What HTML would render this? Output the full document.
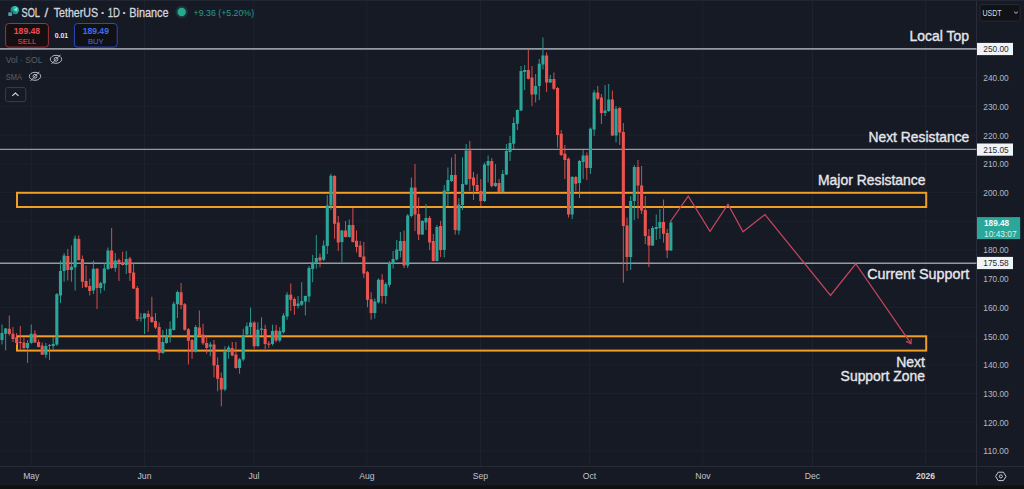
<!DOCTYPE html>
<html><head><meta charset="utf-8"><title>SOL / TetherUS chart</title>
<style>html,body{margin:0;padding:0;background:#161a25;overflow:hidden}svg{display:block}</style></head>
<body>
<svg width="1024" height="489" viewBox="0 0 1024 489" font-family="'Liberation Sans', sans-serif">
<rect width="1024" height="489" fill="#161a25"/>
<g stroke="#1d2130" stroke-width="1" shape-rendering="auto">
<line x1="0" x2="976.5" y1="450.94" y2="450.94"/>
<line x1="0" x2="976.5" y1="422.23" y2="422.23"/>
<line x1="0" x2="976.5" y1="393.52" y2="393.52"/>
<line x1="0" x2="976.5" y1="364.81" y2="364.81"/>
<line x1="0" x2="976.5" y1="336.10" y2="336.10"/>
<line x1="0" x2="976.5" y1="307.39" y2="307.39"/>
<line x1="0" x2="976.5" y1="278.68" y2="278.68"/>
<line x1="0" x2="976.5" y1="249.97" y2="249.97"/>
<line x1="0" x2="976.5" y1="221.26" y2="221.26"/>
<line x1="0" x2="976.5" y1="192.55" y2="192.55"/>
<line x1="0" x2="976.5" y1="163.84" y2="163.84"/>
<line x1="0" x2="976.5" y1="135.13" y2="135.13"/>
<line x1="0" x2="976.5" y1="106.42" y2="106.42"/>
<line x1="0" x2="976.5" y1="77.71" y2="77.71"/>
<line x1="0" x2="976.5" y1="49.00" y2="49.00"/>
<line x1="31.25" x2="31.25" y1="0" y2="466.5"/>
<line x1="144.5" x2="144.5" y1="0" y2="466.5"/>
<line x1="254" x2="254" y1="0" y2="466.5"/>
<line x1="367" x2="367" y1="0" y2="466.5"/>
<line x1="480.5" x2="480.5" y1="0" y2="466.5"/>
<line x1="589.5" x2="589.5" y1="0" y2="466.5"/>
<line x1="703" x2="703" y1="0" y2="466.5"/>
<line x1="812.5" x2="812.5" y1="0" y2="466.5"/>
<line x1="925.5" x2="925.5" y1="0" y2="466.5"/>
</g>
<line x1="976.6" x2="976.6" y1="0" y2="485.5" stroke="#2a2e3b" stroke-width="1"/>
<line x1="0" x2="1024" y1="466.5" y2="466.5" stroke="#282c39" stroke-width="1"/>
<line x1="0" x2="976.5" y1="48.8" y2="48.8" stroke="#9699a3" stroke-width="1.7"/>
<line x1="0" x2="976.5" y1="149.4" y2="149.4" stroke="#9699a3" stroke-width="1.4"/>
<line x1="0" x2="976.5" y1="263.2" y2="263.2" stroke="#9699a3" stroke-width="1.4"/>
<rect x="17" y="192.8" width="909.2" height="14.2" fill="none" stroke="#f29d25" stroke-width="2.0"/>
<rect x="17" y="336.3" width="909.2" height="14.3" fill="none" stroke="#f29d25" stroke-width="2.0"/>
<g>
<line x1="2.00" x2="2.00" y1="324.5" y2="344.5" stroke="#2aa69a" stroke-width="0.9"/>
<rect x="0.45" y="333" width="3.1" height="7.00" fill="#2aa69a"/>
<line x1="5.65" x2="5.65" y1="328" y2="350.5" stroke="#2aa69a" stroke-width="0.9"/>
<rect x="4.10" y="328.5" width="3.1" height="5.25" fill="#2aa69a"/>
<line x1="9.31" x2="9.31" y1="315.5" y2="335.5" stroke="#e9544f" stroke-width="0.9"/>
<rect x="7.76" y="328.75" width="3.1" height="5.25" fill="#e9544f"/>
<line x1="12.96" x2="12.96" y1="327" y2="342" stroke="#e9544f" stroke-width="0.9"/>
<rect x="11.41" y="333.75" width="3.1" height="5.25" fill="#e9544f"/>
<line x1="16.62" x2="16.62" y1="333" y2="345" stroke="#e9544f" stroke-width="0.9"/>
<rect x="15.07" y="337.5" width="3.1" height="5.50" fill="#e9544f"/>
<line x1="20.27" x2="20.27" y1="326" y2="349.5" stroke="#e9544f" stroke-width="0.9"/>
<rect x="18.72" y="342" width="3.1" height="1.00" fill="#e9544f"/>
<line x1="23.93" x2="23.93" y1="337.5" y2="349.5" stroke="#e9544f" stroke-width="0.9"/>
<rect x="22.38" y="342.5" width="3.1" height="5.50" fill="#e9544f"/>
<line x1="27.58" x2="27.58" y1="340" y2="363" stroke="#2aa69a" stroke-width="0.9"/>
<rect x="26.03" y="343" width="3.1" height="5.00" fill="#2aa69a"/>
<line x1="31.24" x2="31.24" y1="324.5" y2="343.75" stroke="#2aa69a" stroke-width="0.9"/>
<rect x="29.69" y="333.75" width="3.1" height="9.25" fill="#2aa69a"/>
<line x1="34.89" x2="34.89" y1="330.5" y2="343" stroke="#e9544f" stroke-width="0.9"/>
<rect x="33.34" y="333.75" width="3.1" height="8.75" fill="#e9544f"/>
<line x1="38.55" x2="38.55" y1="339.5" y2="347.5" stroke="#e9544f" stroke-width="0.9"/>
<rect x="37.00" y="342" width="3.1" height="5.00" fill="#e9544f"/>
<line x1="42.20" x2="42.20" y1="342.5" y2="355" stroke="#e9544f" stroke-width="0.9"/>
<rect x="40.66" y="345.5" width="3.1" height="9.25" fill="#e9544f"/>
<line x1="45.86" x2="45.86" y1="343" y2="358" stroke="#2aa69a" stroke-width="0.9"/>
<rect x="44.31" y="346" width="3.1" height="8.75" fill="#2aa69a"/>
<line x1="49.52" x2="49.52" y1="344" y2="360" stroke="#2aa69a" stroke-width="0.9"/>
<rect x="47.97" y="345" width="3.1" height="0.90" fill="#2aa69a"/>
<line x1="53.17" x2="53.17" y1="337.5" y2="349.5" stroke="#2aa69a" stroke-width="0.9"/>
<rect x="51.62" y="344" width="3.1" height="2.00" fill="#2aa69a"/>
<line x1="56.82" x2="56.82" y1="293" y2="346" stroke="#2aa69a" stroke-width="0.9"/>
<rect x="55.27" y="294.25" width="3.1" height="50.25" fill="#2aa69a"/>
<line x1="60.48" x2="60.48" y1="260.5" y2="303" stroke="#2aa69a" stroke-width="0.9"/>
<rect x="58.93" y="271" width="3.1" height="24.50" fill="#2aa69a"/>
<line x1="64.13" x2="64.13" y1="253" y2="281.75" stroke="#2aa69a" stroke-width="0.9"/>
<rect x="62.58" y="255.5" width="3.1" height="15.50" fill="#2aa69a"/>
<line x1="67.79" x2="67.79" y1="249" y2="280.5" stroke="#e9544f" stroke-width="0.9"/>
<rect x="66.24" y="256" width="3.1" height="14.00" fill="#e9544f"/>
<line x1="71.44" x2="71.44" y1="245.5" y2="281.75" stroke="#2aa69a" stroke-width="0.9"/>
<rect x="69.89" y="266.75" width="3.1" height="3.25" fill="#2aa69a"/>
<line x1="75.10" x2="75.10" y1="235.5" y2="290.5" stroke="#2aa69a" stroke-width="0.9"/>
<rect x="73.55" y="238.5" width="3.1" height="29.00" fill="#2aa69a"/>
<line x1="78.75" x2="78.75" y1="235.5" y2="260.5" stroke="#e9544f" stroke-width="0.9"/>
<rect x="77.20" y="239" width="3.1" height="21.00" fill="#e9544f"/>
<line x1="82.41" x2="82.41" y1="255.5" y2="288" stroke="#e9544f" stroke-width="0.9"/>
<rect x="80.86" y="259" width="3.1" height="22.75" fill="#e9544f"/>
<line x1="86.06" x2="86.06" y1="265.5" y2="288" stroke="#e9544f" stroke-width="0.9"/>
<rect x="84.52" y="281" width="3.1" height="6.00" fill="#e9544f"/>
<line x1="89.72" x2="89.72" y1="279" y2="295.5" stroke="#e9544f" stroke-width="0.9"/>
<rect x="88.17" y="286" width="3.1" height="5.00" fill="#e9544f"/>
<line x1="93.38" x2="93.38" y1="260.5" y2="294" stroke="#2aa69a" stroke-width="0.9"/>
<rect x="91.83" y="268.75" width="3.1" height="21.75" fill="#2aa69a"/>
<line x1="97.03" x2="97.03" y1="268" y2="309" stroke="#e9544f" stroke-width="0.9"/>
<rect x="95.48" y="268.75" width="3.1" height="19.25" fill="#e9544f"/>
<line x1="100.68" x2="100.68" y1="281.75" y2="293.5" stroke="#2aa69a" stroke-width="0.9"/>
<rect x="99.13" y="283" width="3.1" height="5.00" fill="#2aa69a"/>
<line x1="104.34" x2="104.34" y1="263" y2="290.5" stroke="#2aa69a" stroke-width="0.9"/>
<rect x="102.79" y="268.5" width="3.1" height="15.00" fill="#2aa69a"/>
<line x1="107.99" x2="107.99" y1="247.5" y2="270" stroke="#2aa69a" stroke-width="0.9"/>
<rect x="106.44" y="250.5" width="3.1" height="18.50" fill="#2aa69a"/>
<line x1="111.65" x2="111.65" y1="228" y2="269" stroke="#e9544f" stroke-width="0.9"/>
<rect x="110.10" y="250.5" width="3.1" height="17.50" fill="#e9544f"/>
<line x1="115.30" x2="115.30" y1="253" y2="271.75" stroke="#2aa69a" stroke-width="0.9"/>
<rect x="113.75" y="260.5" width="3.1" height="7.50" fill="#2aa69a"/>
<line x1="118.96" x2="118.96" y1="258.5" y2="281" stroke="#e9544f" stroke-width="0.9"/>
<rect x="117.41" y="260" width="3.1" height="2.50" fill="#e9544f"/>
<line x1="122.61" x2="122.61" y1="251.75" y2="265.5" stroke="#e9544f" stroke-width="0.9"/>
<rect x="121.06" y="262.5" width="3.1" height="2.50" fill="#e9544f"/>
<line x1="126.27" x2="126.27" y1="251" y2="274" stroke="#2aa69a" stroke-width="0.9"/>
<rect x="124.72" y="259" width="3.1" height="6.00" fill="#2aa69a"/>
<line x1="129.93" x2="129.93" y1="256.75" y2="281" stroke="#e9544f" stroke-width="0.9"/>
<rect x="128.38" y="258.5" width="3.1" height="14.50" fill="#e9544f"/>
<line x1="133.58" x2="133.58" y1="263" y2="289" stroke="#e9544f" stroke-width="0.9"/>
<rect x="132.03" y="272.5" width="3.1" height="16.00" fill="#e9544f"/>
<line x1="137.23" x2="137.23" y1="286" y2="321" stroke="#e9544f" stroke-width="0.9"/>
<rect x="135.68" y="288" width="3.1" height="31.00" fill="#e9544f"/>
<line x1="140.89" x2="140.89" y1="313" y2="321.75" stroke="#2aa69a" stroke-width="0.9"/>
<rect x="139.34" y="317.5" width="3.1" height="1.00" fill="#2aa69a"/>
<line x1="144.54" x2="144.54" y1="313" y2="334" stroke="#2aa69a" stroke-width="0.9"/>
<rect x="142.99" y="313.5" width="3.1" height="5.00" fill="#2aa69a"/>
<line x1="148.20" x2="148.20" y1="310.5" y2="331.75" stroke="#e9544f" stroke-width="0.9"/>
<rect x="146.65" y="313.75" width="3.1" height="3.25" fill="#e9544f"/>
<line x1="151.85" x2="151.85" y1="296.75" y2="323" stroke="#e9544f" stroke-width="0.9"/>
<rect x="150.30" y="316.75" width="3.1" height="5.25" fill="#e9544f"/>
<line x1="155.51" x2="155.51" y1="313" y2="329" stroke="#e9544f" stroke-width="0.9"/>
<rect x="153.96" y="321" width="3.1" height="6.50" fill="#e9544f"/>
<line x1="159.16" x2="159.16" y1="322.5" y2="360" stroke="#e9544f" stroke-width="0.9"/>
<rect x="157.61" y="327" width="3.1" height="26.00" fill="#e9544f"/>
<line x1="162.82" x2="162.82" y1="330" y2="353.75" stroke="#2aa69a" stroke-width="0.9"/>
<rect x="161.27" y="342" width="3.1" height="11.00" fill="#2aa69a"/>
<line x1="166.47" x2="166.47" y1="328.75" y2="343.75" stroke="#2aa69a" stroke-width="0.9"/>
<rect x="164.92" y="336.25" width="3.1" height="6.75" fill="#2aa69a"/>
<line x1="170.13" x2="170.13" y1="321.25" y2="342.5" stroke="#2aa69a" stroke-width="0.9"/>
<rect x="168.58" y="328.75" width="3.1" height="7.50" fill="#2aa69a"/>
<line x1="173.78" x2="173.78" y1="301.75" y2="330.5" stroke="#2aa69a" stroke-width="0.9"/>
<rect x="172.23" y="303.75" width="3.1" height="26.25" fill="#2aa69a"/>
<line x1="177.44" x2="177.44" y1="290.5" y2="318" stroke="#2aa69a" stroke-width="0.9"/>
<rect x="175.89" y="292" width="3.1" height="12.25" fill="#2aa69a"/>
<line x1="181.09" x2="181.09" y1="283" y2="309.25" stroke="#e9544f" stroke-width="0.9"/>
<rect x="179.54" y="292.25" width="3.1" height="12.75" fill="#e9544f"/>
<line x1="184.75" x2="184.75" y1="303" y2="330.5" stroke="#e9544f" stroke-width="0.9"/>
<rect x="183.20" y="304.25" width="3.1" height="25.50" fill="#e9544f"/>
<line x1="188.41" x2="188.41" y1="328" y2="364.5" stroke="#e9544f" stroke-width="0.9"/>
<rect x="186.85" y="329.25" width="3.1" height="11.50" fill="#e9544f"/>
<line x1="192.06" x2="192.06" y1="338.75" y2="358.75" stroke="#e9544f" stroke-width="0.9"/>
<rect x="190.51" y="340" width="3.1" height="11.25" fill="#e9544f"/>
<line x1="195.72" x2="195.72" y1="325" y2="352.5" stroke="#2aa69a" stroke-width="0.9"/>
<rect x="194.16" y="327" width="3.1" height="24.25" fill="#2aa69a"/>
<line x1="199.37" x2="199.37" y1="310.5" y2="336.75" stroke="#e9544f" stroke-width="0.9"/>
<rect x="197.82" y="327.5" width="3.1" height="8.00" fill="#e9544f"/>
<line x1="203.02" x2="203.02" y1="323.75" y2="345" stroke="#e9544f" stroke-width="0.9"/>
<rect x="201.47" y="334.5" width="3.1" height="8.75" fill="#e9544f"/>
<line x1="206.68" x2="206.68" y1="336.25" y2="353.75" stroke="#e9544f" stroke-width="0.9"/>
<rect x="205.13" y="343" width="3.1" height="5.00" fill="#e9544f"/>
<line x1="210.33" x2="210.33" y1="342" y2="356.25" stroke="#2aa69a" stroke-width="0.9"/>
<rect x="208.78" y="344.5" width="3.1" height="2.25" fill="#2aa69a"/>
<line x1="213.99" x2="213.99" y1="340" y2="377.5" stroke="#e9544f" stroke-width="0.9"/>
<rect x="212.44" y="344.5" width="3.1" height="21.00" fill="#e9544f"/>
<line x1="217.64" x2="217.64" y1="357.5" y2="391.25" stroke="#e9544f" stroke-width="0.9"/>
<rect x="216.09" y="365" width="3.1" height="13.75" fill="#e9544f"/>
<line x1="221.30" x2="221.30" y1="372.5" y2="406.25" stroke="#e9544f" stroke-width="0.9"/>
<rect x="219.75" y="378" width="3.1" height="11.50" fill="#e9544f"/>
<line x1="224.95" x2="224.95" y1="346.25" y2="391.25" stroke="#2aa69a" stroke-width="0.9"/>
<rect x="223.40" y="351.25" width="3.1" height="38.25" fill="#2aa69a"/>
<line x1="228.61" x2="228.61" y1="345.5" y2="358.75" stroke="#2aa69a" stroke-width="0.9"/>
<rect x="227.06" y="347.5" width="3.1" height="4.50" fill="#2aa69a"/>
<line x1="232.26" x2="232.26" y1="342" y2="356.25" stroke="#e9544f" stroke-width="0.9"/>
<rect x="230.71" y="348" width="3.1" height="7.50" fill="#e9544f"/>
<line x1="235.92" x2="235.92" y1="342" y2="368.75" stroke="#e9544f" stroke-width="0.9"/>
<rect x="234.37" y="354.5" width="3.1" height="13.50" fill="#e9544f"/>
<line x1="239.57" x2="239.57" y1="358" y2="373.75" stroke="#2aa69a" stroke-width="0.9"/>
<rect x="238.02" y="359.25" width="3.1" height="8.75" fill="#2aa69a"/>
<line x1="243.23" x2="243.23" y1="328.75" y2="361.25" stroke="#2aa69a" stroke-width="0.9"/>
<rect x="241.68" y="335" width="3.1" height="24.50" fill="#2aa69a"/>
<line x1="246.88" x2="246.88" y1="322.5" y2="335" stroke="#2aa69a" stroke-width="0.9"/>
<rect x="245.33" y="326.25" width="3.1" height="8.25" fill="#2aa69a"/>
<line x1="250.54" x2="250.54" y1="307.5" y2="336" stroke="#2aa69a" stroke-width="0.9"/>
<rect x="248.99" y="322.5" width="3.1" height="4.50" fill="#2aa69a"/>
<line x1="254.19" x2="254.19" y1="321.25" y2="348.75" stroke="#e9544f" stroke-width="0.9"/>
<rect x="252.64" y="322.5" width="3.1" height="23.75" fill="#e9544f"/>
<line x1="257.85" x2="257.85" y1="322.25" y2="347.25" stroke="#2aa69a" stroke-width="0.9"/>
<rect x="256.30" y="329.75" width="3.1" height="16.25" fill="#2aa69a"/>
<line x1="261.50" x2="261.50" y1="317.25" y2="336" stroke="#2aa69a" stroke-width="0.9"/>
<rect x="259.95" y="328.5" width="3.1" height="1.25" fill="#2aa69a"/>
<line x1="265.16" x2="265.16" y1="324.75" y2="349" stroke="#e9544f" stroke-width="0.9"/>
<rect x="263.61" y="329" width="3.1" height="15.00" fill="#e9544f"/>
<line x1="268.81" x2="268.81" y1="341" y2="348" stroke="#e9544f" stroke-width="0.9"/>
<rect x="267.26" y="343.5" width="3.1" height="1.25" fill="#e9544f"/>
<line x1="272.47" x2="272.47" y1="324.75" y2="345.5" stroke="#2aa69a" stroke-width="0.9"/>
<rect x="270.92" y="331" width="3.1" height="13.00" fill="#2aa69a"/>
<line x1="276.12" x2="276.12" y1="324.75" y2="342.25" stroke="#e9544f" stroke-width="0.9"/>
<rect x="274.57" y="330.5" width="3.1" height="10.00" fill="#e9544f"/>
<line x1="279.78" x2="279.78" y1="327.25" y2="342.25" stroke="#2aa69a" stroke-width="0.9"/>
<rect x="278.23" y="331" width="3.1" height="9.50" fill="#2aa69a"/>
<line x1="283.44" x2="283.44" y1="313" y2="333.5" stroke="#2aa69a" stroke-width="0.9"/>
<rect x="281.88" y="315.5" width="3.1" height="16.75" fill="#2aa69a"/>
<line x1="287.09" x2="287.09" y1="292.25" y2="319.75" stroke="#2aa69a" stroke-width="0.9"/>
<rect x="285.54" y="294.75" width="3.1" height="21.75" fill="#2aa69a"/>
<line x1="290.75" x2="290.75" y1="283.5" y2="311" stroke="#e9544f" stroke-width="0.9"/>
<rect x="289.19" y="294.75" width="3.1" height="5.00" fill="#e9544f"/>
<line x1="294.40" x2="294.40" y1="297.25" y2="314.75" stroke="#e9544f" stroke-width="0.9"/>
<rect x="292.85" y="299" width="3.1" height="7.00" fill="#e9544f"/>
<line x1="298.06" x2="298.06" y1="296" y2="308.5" stroke="#2aa69a" stroke-width="0.9"/>
<rect x="296.50" y="303.5" width="3.1" height="2.50" fill="#2aa69a"/>
<line x1="301.71" x2="301.71" y1="282.25" y2="306" stroke="#2aa69a" stroke-width="0.9"/>
<rect x="300.16" y="301" width="3.1" height="3.75" fill="#2aa69a"/>
<line x1="305.37" x2="305.37" y1="295.5" y2="315.5" stroke="#2aa69a" stroke-width="0.9"/>
<rect x="303.81" y="296" width="3.1" height="5.50" fill="#2aa69a"/>
<line x1="309.02" x2="309.02" y1="266" y2="302.25" stroke="#2aa69a" stroke-width="0.9"/>
<rect x="307.47" y="268" width="3.1" height="28.50" fill="#2aa69a"/>
<line x1="312.68" x2="312.68" y1="254.75" y2="282.25" stroke="#2aa69a" stroke-width="0.9"/>
<rect x="311.12" y="262.25" width="3.1" height="6.75" fill="#2aa69a"/>
<line x1="316.33" x2="316.33" y1="235" y2="268.5" stroke="#2aa69a" stroke-width="0.9"/>
<rect x="314.78" y="258" width="3.1" height="4.50" fill="#2aa69a"/>
<line x1="319.98" x2="319.98" y1="253.5" y2="267.25" stroke="#e9544f" stroke-width="0.9"/>
<rect x="318.43" y="257.25" width="3.1" height="3.25" fill="#e9544f"/>
<line x1="323.64" x2="323.64" y1="240.5" y2="261" stroke="#2aa69a" stroke-width="0.9"/>
<rect x="322.09" y="245.5" width="3.1" height="14.25" fill="#2aa69a"/>
<line x1="327.29" x2="327.29" y1="195" y2="254" stroke="#2aa69a" stroke-width="0.9"/>
<rect x="325.74" y="205.5" width="3.1" height="40.50" fill="#2aa69a"/>
<line x1="330.95" x2="330.95" y1="173.75" y2="210" stroke="#2aa69a" stroke-width="0.9"/>
<rect x="329.40" y="175.75" width="3.1" height="29.75" fill="#2aa69a"/>
<line x1="334.60" x2="334.60" y1="175" y2="238.75" stroke="#e9544f" stroke-width="0.9"/>
<rect x="333.05" y="176" width="3.1" height="47.75" fill="#e9544f"/>
<line x1="338.26" x2="338.26" y1="216" y2="251" stroke="#e9544f" stroke-width="0.9"/>
<rect x="336.71" y="222.5" width="3.1" height="20.00" fill="#e9544f"/>
<line x1="341.91" x2="341.91" y1="230" y2="262" stroke="#2aa69a" stroke-width="0.9"/>
<rect x="340.36" y="230.5" width="3.1" height="11.50" fill="#2aa69a"/>
<line x1="345.57" x2="345.57" y1="221" y2="237.5" stroke="#e9544f" stroke-width="0.9"/>
<rect x="344.02" y="230.5" width="3.1" height="6.50" fill="#e9544f"/>
<line x1="349.22" x2="349.22" y1="219.5" y2="237.5" stroke="#2aa69a" stroke-width="0.9"/>
<rect x="347.67" y="225" width="3.1" height="12.00" fill="#2aa69a"/>
<line x1="352.88" x2="352.88" y1="208" y2="242.5" stroke="#e9544f" stroke-width="0.9"/>
<rect x="351.33" y="225" width="3.1" height="17.00" fill="#e9544f"/>
<line x1="356.53" x2="356.53" y1="230.5" y2="252.5" stroke="#e9544f" stroke-width="0.9"/>
<rect x="354.98" y="240.75" width="3.1" height="6.25" fill="#e9544f"/>
<line x1="360.19" x2="360.19" y1="241" y2="257.5" stroke="#e9544f" stroke-width="0.9"/>
<rect x="358.64" y="245.5" width="3.1" height="11.50" fill="#e9544f"/>
<line x1="363.84" x2="363.84" y1="242" y2="278" stroke="#e9544f" stroke-width="0.9"/>
<rect x="362.29" y="256.5" width="3.1" height="17.00" fill="#e9544f"/>
<line x1="367.50" x2="367.50" y1="271" y2="307.25" stroke="#e9544f" stroke-width="0.9"/>
<rect x="365.95" y="272.25" width="3.1" height="27.50" fill="#e9544f"/>
<line x1="371.15" x2="371.15" y1="292.25" y2="319.75" stroke="#e9544f" stroke-width="0.9"/>
<rect x="369.60" y="299.25" width="3.1" height="13.75" fill="#e9544f"/>
<line x1="374.81" x2="374.81" y1="298.5" y2="318.5" stroke="#2aa69a" stroke-width="0.9"/>
<rect x="373.26" y="301.5" width="3.1" height="11.50" fill="#2aa69a"/>
<line x1="378.46" x2="378.46" y1="278.5" y2="303.5" stroke="#2aa69a" stroke-width="0.9"/>
<rect x="376.91" y="279.75" width="3.1" height="22.50" fill="#2aa69a"/>
<line x1="382.12" x2="382.12" y1="274" y2="303.5" stroke="#e9544f" stroke-width="0.9"/>
<rect x="380.57" y="279.75" width="3.1" height="16.25" fill="#e9544f"/>
<line x1="385.77" x2="385.77" y1="282.25" y2="304" stroke="#2aa69a" stroke-width="0.9"/>
<rect x="384.22" y="284" width="3.1" height="12.00" fill="#2aa69a"/>
<line x1="389.43" x2="389.43" y1="261" y2="287.25" stroke="#2aa69a" stroke-width="0.9"/>
<rect x="387.88" y="263" width="3.1" height="21.75" fill="#2aa69a"/>
<line x1="393.08" x2="393.08" y1="251" y2="268.5" stroke="#2aa69a" stroke-width="0.9"/>
<rect x="391.53" y="259" width="3.1" height="4.50" fill="#2aa69a"/>
<line x1="396.74" x2="396.74" y1="240" y2="260.5" stroke="#2aa69a" stroke-width="0.9"/>
<rect x="395.19" y="249.5" width="3.1" height="10.00" fill="#2aa69a"/>
<line x1="400.39" x2="400.39" y1="232" y2="257.5" stroke="#2aa69a" stroke-width="0.9"/>
<rect x="398.84" y="241" width="3.1" height="10.00" fill="#2aa69a"/>
<line x1="404.05" x2="404.05" y1="230.5" y2="268" stroke="#e9544f" stroke-width="0.9"/>
<rect x="402.50" y="241" width="3.1" height="24.50" fill="#e9544f"/>
<line x1="407.70" x2="407.70" y1="214" y2="268" stroke="#2aa69a" stroke-width="0.9"/>
<rect x="406.15" y="215.5" width="3.1" height="50.00" fill="#2aa69a"/>
<line x1="411.36" x2="411.36" y1="177.5" y2="217.5" stroke="#2aa69a" stroke-width="0.9"/>
<rect x="409.81" y="187.5" width="3.1" height="28.50" fill="#2aa69a"/>
<line x1="415.01" x2="415.01" y1="164" y2="231" stroke="#e9544f" stroke-width="0.9"/>
<rect x="413.46" y="187.5" width="3.1" height="27.00" fill="#e9544f"/>
<line x1="418.67" x2="418.67" y1="197.5" y2="240" stroke="#e9544f" stroke-width="0.9"/>
<rect x="417.12" y="214" width="3.1" height="20.50" fill="#e9544f"/>
<line x1="422.32" x2="422.32" y1="220" y2="235" stroke="#2aa69a" stroke-width="0.9"/>
<rect x="420.77" y="221" width="3.1" height="13.50" fill="#2aa69a"/>
<line x1="425.98" x2="425.98" y1="204" y2="230" stroke="#2aa69a" stroke-width="0.9"/>
<rect x="424.43" y="218" width="3.1" height="4.50" fill="#2aa69a"/>
<line x1="429.63" x2="429.63" y1="216" y2="250" stroke="#e9544f" stroke-width="0.9"/>
<rect x="428.08" y="218" width="3.1" height="24.50" fill="#e9544f"/>
<line x1="433.29" x2="433.29" y1="234" y2="261.5" stroke="#e9544f" stroke-width="0.9"/>
<rect x="431.74" y="241" width="3.1" height="20.00" fill="#e9544f"/>
<line x1="436.94" x2="436.94" y1="225" y2="261.5" stroke="#2aa69a" stroke-width="0.9"/>
<rect x="435.39" y="227" width="3.1" height="34.00" fill="#2aa69a"/>
<line x1="440.60" x2="440.60" y1="221" y2="257" stroke="#e9544f" stroke-width="0.9"/>
<rect x="439.05" y="226" width="3.1" height="24.00" fill="#e9544f"/>
<line x1="444.25" x2="444.25" y1="185" y2="257.5" stroke="#2aa69a" stroke-width="0.9"/>
<rect x="442.70" y="190.5" width="3.1" height="59.50" fill="#2aa69a"/>
<line x1="447.91" x2="447.91" y1="167.5" y2="206" stroke="#2aa69a" stroke-width="0.9"/>
<rect x="446.36" y="180" width="3.1" height="11.00" fill="#2aa69a"/>
<line x1="451.56" x2="451.56" y1="157.5" y2="182" stroke="#2aa69a" stroke-width="0.9"/>
<rect x="450.01" y="175" width="3.1" height="6.00" fill="#2aa69a"/>
<line x1="455.22" x2="455.22" y1="154" y2="234.5" stroke="#e9544f" stroke-width="0.9"/>
<rect x="453.67" y="175" width="3.1" height="55.00" fill="#e9544f"/>
<line x1="458.88" x2="458.88" y1="198" y2="234.5" stroke="#2aa69a" stroke-width="0.9"/>
<rect x="457.32" y="204.5" width="3.1" height="26.00" fill="#2aa69a"/>
<line x1="462.53" x2="462.53" y1="157.5" y2="210" stroke="#2aa69a" stroke-width="0.9"/>
<rect x="460.98" y="184" width="3.1" height="21.00" fill="#2aa69a"/>
<line x1="466.19" x2="466.19" y1="144" y2="185" stroke="#2aa69a" stroke-width="0.9"/>
<rect x="464.63" y="150.5" width="3.1" height="34.00" fill="#2aa69a"/>
<line x1="469.84" x2="469.84" y1="141" y2="191" stroke="#e9544f" stroke-width="0.9"/>
<rect x="468.29" y="150.5" width="3.1" height="28.50" fill="#e9544f"/>
<line x1="473.49" x2="473.49" y1="172" y2="200" stroke="#e9544f" stroke-width="0.9"/>
<rect x="471.94" y="177.5" width="3.1" height="8.00" fill="#e9544f"/>
<line x1="477.15" x2="477.15" y1="174" y2="192" stroke="#e9544f" stroke-width="0.9"/>
<rect x="475.60" y="185" width="3.1" height="6.00" fill="#e9544f"/>
<line x1="480.80" x2="480.80" y1="179" y2="206" stroke="#e9544f" stroke-width="0.9"/>
<rect x="479.25" y="191" width="3.1" height="10.00" fill="#e9544f"/>
<line x1="484.46" x2="484.46" y1="162.5" y2="202" stroke="#2aa69a" stroke-width="0.9"/>
<rect x="482.91" y="164.5" width="3.1" height="36.50" fill="#2aa69a"/>
<line x1="488.11" x2="488.11" y1="155.5" y2="182.5" stroke="#2aa69a" stroke-width="0.9"/>
<rect x="486.56" y="161" width="3.1" height="4.50" fill="#2aa69a"/>
<line x1="491.77" x2="491.77" y1="158" y2="187.5" stroke="#e9544f" stroke-width="0.9"/>
<rect x="490.22" y="161" width="3.1" height="25.00" fill="#e9544f"/>
<line x1="495.42" x2="495.42" y1="164" y2="187" stroke="#2aa69a" stroke-width="0.9"/>
<rect x="493.87" y="183" width="3.1" height="3.00" fill="#2aa69a"/>
<line x1="499.08" x2="499.08" y1="179" y2="192.5" stroke="#e9544f" stroke-width="0.9"/>
<rect x="497.53" y="183" width="3.1" height="9.00" fill="#e9544f"/>
<line x1="502.73" x2="502.73" y1="170" y2="192.5" stroke="#2aa69a" stroke-width="0.9"/>
<rect x="501.18" y="174" width="3.1" height="18.00" fill="#2aa69a"/>
<line x1="506.39" x2="506.39" y1="144" y2="175" stroke="#2aa69a" stroke-width="0.9"/>
<rect x="504.84" y="151" width="3.1" height="23.50" fill="#2aa69a"/>
<line x1="510.04" x2="510.04" y1="136" y2="161" stroke="#2aa69a" stroke-width="0.9"/>
<rect x="508.49" y="143" width="3.1" height="9.00" fill="#2aa69a"/>
<line x1="513.70" x2="513.70" y1="117.5" y2="149" stroke="#2aa69a" stroke-width="0.9"/>
<rect x="512.15" y="123" width="3.1" height="20.75" fill="#2aa69a"/>
<line x1="517.36" x2="517.36" y1="109.5" y2="130" stroke="#2aa69a" stroke-width="0.9"/>
<rect x="515.81" y="110" width="3.1" height="13.75" fill="#2aa69a"/>
<line x1="521.01" x2="521.01" y1="66" y2="111" stroke="#2aa69a" stroke-width="0.9"/>
<rect x="519.46" y="71" width="3.1" height="39.50" fill="#2aa69a"/>
<line x1="524.66" x2="524.66" y1="65" y2="90" stroke="#2aa69a" stroke-width="0.9"/>
<rect x="523.12" y="70" width="3.1" height="2.00" fill="#2aa69a"/>
<line x1="528.32" x2="528.32" y1="49" y2="79.5" stroke="#e9544f" stroke-width="0.9"/>
<rect x="526.77" y="70" width="3.1" height="8.75" fill="#e9544f"/>
<line x1="531.98" x2="531.98" y1="66" y2="106" stroke="#e9544f" stroke-width="0.9"/>
<rect x="530.43" y="77.5" width="3.1" height="17.00" fill="#e9544f"/>
<line x1="535.63" x2="535.63" y1="74" y2="102.5" stroke="#2aa69a" stroke-width="0.9"/>
<rect x="534.08" y="86" width="3.1" height="8.50" fill="#2aa69a"/>
<line x1="539.28" x2="539.28" y1="59" y2="100" stroke="#2aa69a" stroke-width="0.9"/>
<rect x="537.74" y="63.75" width="3.1" height="22.25" fill="#2aa69a"/>
<line x1="542.94" x2="542.94" y1="37.5" y2="69.5" stroke="#2aa69a" stroke-width="0.9"/>
<rect x="541.39" y="55.5" width="3.1" height="9.00" fill="#2aa69a"/>
<line x1="546.60" x2="546.60" y1="52.5" y2="92" stroke="#e9544f" stroke-width="0.9"/>
<rect x="545.05" y="55.5" width="3.1" height="27.00" fill="#e9544f"/>
<line x1="550.25" x2="550.25" y1="75" y2="83" stroke="#2aa69a" stroke-width="0.9"/>
<rect x="548.70" y="79" width="3.1" height="3.50" fill="#2aa69a"/>
<line x1="553.90" x2="553.90" y1="72.5" y2="90" stroke="#e9544f" stroke-width="0.9"/>
<rect x="552.36" y="79" width="3.1" height="9.75" fill="#e9544f"/>
<line x1="557.56" x2="557.56" y1="87" y2="147.5" stroke="#e9544f" stroke-width="0.9"/>
<rect x="556.01" y="88" width="3.1" height="47.00" fill="#e9544f"/>
<line x1="561.21" x2="561.21" y1="130" y2="156" stroke="#e9544f" stroke-width="0.9"/>
<rect x="559.66" y="133.75" width="3.1" height="21.25" fill="#e9544f"/>
<line x1="564.87" x2="564.87" y1="145" y2="179" stroke="#e9544f" stroke-width="0.9"/>
<rect x="563.32" y="153.75" width="3.1" height="6.25" fill="#e9544f"/>
<line x1="568.52" x2="568.52" y1="157.5" y2="217.5" stroke="#e9544f" stroke-width="0.9"/>
<rect x="566.98" y="158.75" width="3.1" height="55.75" fill="#e9544f"/>
<line x1="572.18" x2="572.18" y1="176" y2="219" stroke="#2aa69a" stroke-width="0.9"/>
<rect x="570.63" y="177" width="3.1" height="37.50" fill="#2aa69a"/>
<line x1="575.83" x2="575.83" y1="176" y2="191" stroke="#e9544f" stroke-width="0.9"/>
<rect x="574.28" y="177" width="3.1" height="6.75" fill="#e9544f"/>
<line x1="579.49" x2="579.49" y1="160" y2="198" stroke="#2aa69a" stroke-width="0.9"/>
<rect x="577.94" y="161" width="3.1" height="22.00" fill="#2aa69a"/>
<line x1="583.14" x2="583.14" y1="150" y2="179" stroke="#2aa69a" stroke-width="0.9"/>
<rect x="581.60" y="155.5" width="3.1" height="6.50" fill="#2aa69a"/>
<line x1="586.80" x2="586.80" y1="152.5" y2="180" stroke="#e9544f" stroke-width="0.9"/>
<rect x="585.25" y="155.5" width="3.1" height="12.50" fill="#e9544f"/>
<line x1="590.45" x2="590.45" y1="127.5" y2="174" stroke="#2aa69a" stroke-width="0.9"/>
<rect x="588.90" y="128.75" width="3.1" height="39.25" fill="#2aa69a"/>
<line x1="594.11" x2="594.11" y1="90" y2="136" stroke="#2aa69a" stroke-width="0.9"/>
<rect x="592.56" y="92.5" width="3.1" height="37.00" fill="#2aa69a"/>
<line x1="597.76" x2="597.76" y1="86" y2="100" stroke="#e9544f" stroke-width="0.9"/>
<rect x="596.22" y="92.5" width="3.1" height="6.25" fill="#e9544f"/>
<line x1="601.42" x2="601.42" y1="94" y2="124" stroke="#e9544f" stroke-width="0.9"/>
<rect x="599.87" y="97.5" width="3.1" height="15.50" fill="#e9544f"/>
<line x1="605.07" x2="605.07" y1="85" y2="116" stroke="#2aa69a" stroke-width="0.9"/>
<rect x="603.52" y="110.5" width="3.1" height="2.50" fill="#2aa69a"/>
<line x1="608.73" x2="608.73" y1="84" y2="112" stroke="#2aa69a" stroke-width="0.9"/>
<rect x="607.18" y="99.5" width="3.1" height="11.50" fill="#2aa69a"/>
<line x1="612.38" x2="612.38" y1="90.5" y2="136" stroke="#e9544f" stroke-width="0.9"/>
<rect x="610.84" y="99.5" width="3.1" height="36.00" fill="#e9544f"/>
<line x1="616.04" x2="616.04" y1="106" y2="142.5" stroke="#2aa69a" stroke-width="0.9"/>
<rect x="614.49" y="108.75" width="3.1" height="26.75" fill="#2aa69a"/>
<line x1="619.69" x2="619.69" y1="107" y2="145" stroke="#e9544f" stroke-width="0.9"/>
<rect x="618.14" y="108" width="3.1" height="24.50" fill="#e9544f"/>
<line x1="623.35" x2="623.35" y1="123" y2="282.5" stroke="#e9544f" stroke-width="0.9"/>
<rect x="621.80" y="132" width="3.1" height="94.00" fill="#e9544f"/>
<line x1="627.00" x2="627.00" y1="217.5" y2="271" stroke="#e9544f" stroke-width="0.9"/>
<rect x="625.46" y="225.5" width="3.1" height="31.50" fill="#e9544f"/>
<line x1="630.66" x2="630.66" y1="196" y2="270" stroke="#2aa69a" stroke-width="0.9"/>
<rect x="629.11" y="201" width="3.1" height="56.00" fill="#2aa69a"/>
<line x1="634.31" x2="634.31" y1="165" y2="220" stroke="#2aa69a" stroke-width="0.9"/>
<rect x="632.76" y="167" width="3.1" height="34.00" fill="#2aa69a"/>
<line x1="637.97" x2="637.97" y1="160" y2="218.5" stroke="#e9544f" stroke-width="0.9"/>
<rect x="636.42" y="167" width="3.1" height="18.50" fill="#e9544f"/>
<line x1="641.62" x2="641.62" y1="166" y2="214" stroke="#e9544f" stroke-width="0.9"/>
<rect x="640.08" y="185.5" width="3.1" height="25.00" fill="#e9544f"/>
<line x1="645.28" x2="645.28" y1="196" y2="244" stroke="#e9544f" stroke-width="0.9"/>
<rect x="643.73" y="210" width="3.1" height="26.00" fill="#e9544f"/>
<line x1="648.93" x2="648.93" y1="229" y2="267" stroke="#e9544f" stroke-width="0.9"/>
<rect x="647.38" y="236" width="3.1" height="9.50" fill="#e9544f"/>
<line x1="652.59" x2="652.59" y1="226" y2="246" stroke="#2aa69a" stroke-width="0.9"/>
<rect x="651.04" y="228" width="3.1" height="17.50" fill="#2aa69a"/>
<line x1="656.25" x2="656.25" y1="214.5" y2="240" stroke="#2aa69a" stroke-width="0.9"/>
<rect x="654.70" y="227" width="3.1" height="2.00" fill="#2aa69a"/>
<line x1="659.90" x2="659.90" y1="209" y2="239" stroke="#2aa69a" stroke-width="0.9"/>
<rect x="658.35" y="222" width="3.1" height="6.00" fill="#2aa69a"/>
<line x1="663.55" x2="663.55" y1="199.5" y2="242.5" stroke="#e9544f" stroke-width="0.9"/>
<rect x="662.00" y="222" width="3.1" height="11.75" fill="#e9544f"/>
<line x1="667.21" x2="667.21" y1="229" y2="258" stroke="#e9544f" stroke-width="0.9"/>
<rect x="665.66" y="233" width="3.1" height="17.50" fill="#e9544f"/>
<line x1="670.87" x2="670.87" y1="220.5" y2="251" stroke="#2aa69a" stroke-width="0.9"/>
<rect x="669.32" y="222.5" width="3.1" height="28.00" fill="#2aa69a"/>
</g>
<polyline fill="none" stroke="#c4465e" stroke-width="1.25" points="670.5,221.5 688.25,196.25 710,231.25 728,204.25 743,231.75 765,214.5 830.5,295.5 855.75,263.75 911,343.6"/>
<polyline fill="none" stroke="#c4465e" stroke-width="1.2" points="906,341.4 911,343.6 911.2,338.4"/>
<text x="909.5" y="41" font-size="14.3" fill="#e6e7ec" stroke="#e6e7ec" stroke-width="0.35" textLength="59.5" lengthAdjust="spacingAndGlyphs">Local Top</text>
<text x="868.5" y="141.5" font-size="14.3" fill="#e6e7ec" stroke="#e6e7ec" stroke-width="0.35" textLength="100.75" lengthAdjust="spacingAndGlyphs">Next Resistance</text>
<text x="818.0" y="184.5" font-size="14.3" fill="#e6e7ec" stroke="#e6e7ec" stroke-width="0.35" textLength="107.5" lengthAdjust="spacingAndGlyphs">Major Resistance</text>
<text x="867.25" y="279" font-size="14.3" fill="#e6e7ec" stroke="#e6e7ec" stroke-width="0.35" textLength="102" lengthAdjust="spacingAndGlyphs">Current Support</text>
<text x="896.2" y="366.9" font-size="14.3" fill="#e6e7ec" stroke="#e6e7ec" stroke-width="0.35" textLength="28.8" lengthAdjust="spacingAndGlyphs">Next</text>
<text x="840.6" y="381.3" font-size="14.3" fill="#e6e7ec" stroke="#e6e7ec" stroke-width="0.35" textLength="84.4" lengthAdjust="spacingAndGlyphs">Support Zone</text>
<text x="983.3" y="454.44" font-size="8.6" fill="#b6b8c0" textLength="25.4" lengthAdjust="spacingAndGlyphs">110.00</text>
<text x="983.3" y="425.73" font-size="8.6" fill="#b6b8c0" textLength="25.4" lengthAdjust="spacingAndGlyphs">120.00</text>
<text x="983.3" y="397.02" font-size="8.6" fill="#b6b8c0" textLength="25.4" lengthAdjust="spacingAndGlyphs">130.00</text>
<text x="983.3" y="368.31" font-size="8.6" fill="#b6b8c0" textLength="25.4" lengthAdjust="spacingAndGlyphs">140.00</text>
<text x="983.3" y="339.60" font-size="8.6" fill="#b6b8c0" textLength="25.4" lengthAdjust="spacingAndGlyphs">150.00</text>
<text x="983.3" y="310.89" font-size="8.6" fill="#b6b8c0" textLength="25.4" lengthAdjust="spacingAndGlyphs">160.00</text>
<text x="983.3" y="282.18" font-size="8.6" fill="#b6b8c0" textLength="25.4" lengthAdjust="spacingAndGlyphs">170.00</text>
<text x="983.3" y="253.47" font-size="8.6" fill="#b6b8c0" textLength="25.4" lengthAdjust="spacingAndGlyphs">180.00</text>
<text x="983.3" y="196.05" font-size="8.6" fill="#b6b8c0" textLength="25.4" lengthAdjust="spacingAndGlyphs">200.00</text>
<text x="983.3" y="167.34" font-size="8.6" fill="#b6b8c0" textLength="25.4" lengthAdjust="spacingAndGlyphs">210.00</text>
<text x="983.3" y="138.63" font-size="8.6" fill="#b6b8c0" textLength="25.4" lengthAdjust="spacingAndGlyphs">220.00</text>
<text x="983.3" y="109.92" font-size="8.6" fill="#b6b8c0" textLength="25.4" lengthAdjust="spacingAndGlyphs">230.00</text>
<text x="983.3" y="81.21" font-size="8.6" fill="#b6b8c0" textLength="25.4" lengthAdjust="spacingAndGlyphs">240.00</text>
<rect x="977" y="42.9" width="36" height="12.2" fill="#f2f3f5"/>
<text x="983.3" y="52.1" font-size="8.6" fill="#262a35" textLength="25.4" lengthAdjust="spacingAndGlyphs">250.00</text>
<rect x="977" y="143.5" width="36" height="12.2" fill="#f2f3f5"/>
<text x="983.3" y="152.7" font-size="8.6" fill="#262a35" textLength="25.4" lengthAdjust="spacingAndGlyphs">215.05</text>
<rect x="977" y="256.9" width="36" height="12.2" fill="#f2f3f5"/>
<text x="983.3" y="266.1" font-size="8.6" fill="#262a35" textLength="25.4" lengthAdjust="spacingAndGlyphs">175.58</text>
<rect x="977" y="217.1" width="43.2" height="22" fill="#2aa69a"/>
<text x="984" y="226.1" font-size="8.6" font-weight="bold" fill="#f0fbfa" textLength="25.2" lengthAdjust="spacingAndGlyphs">189.48</text>
<text x="984" y="236.6" font-size="8.6" fill="#d6f1ee" textLength="32.6" lengthAdjust="spacingAndGlyphs">10:43:07</text>
<text x="31.25" y="479.3" font-size="8.6" fill="#c3c5cc" text-anchor="middle">May</text>
<text x="144.5" y="479.3" font-size="8.6" fill="#c3c5cc" text-anchor="middle">Jun</text>
<text x="254" y="479.3" font-size="8.6" fill="#c3c5cc" text-anchor="middle">Jul</text>
<text x="367" y="479.3" font-size="8.6" fill="#c3c5cc" text-anchor="middle">Aug</text>
<text x="480.5" y="479.3" font-size="8.6" fill="#c3c5cc" text-anchor="middle">Sep</text>
<text x="589.5" y="479.3" font-size="8.6" fill="#c3c5cc" text-anchor="middle">Oct</text>
<text x="703" y="479.3" font-size="8.6" fill="#c3c5cc" text-anchor="middle">Nov</text>
<text x="812.5" y="479.3" font-size="8.6" fill="#c3c5cc" text-anchor="middle">Dec</text>
<text x="925.5" y="479.3" font-size="8.6" fill="#d4d6dc" text-anchor="middle" font-weight="bold">2026</text>
<g fill="none" stroke="#c9cbd2" stroke-width="1">
<polygon points="995.6,476.4 998.2,472.2 1003.4,472.2 1006,476.4 1003.4,480.6 998.2,480.6"/>
<circle cx="1000.8" cy="476.4" r="1.5"/></g>
<rect x="0" y="485.5" width="1024" height="3.5" fill="#101013"/>
<rect x="0" y="0" width="1024" height="1" fill="#222632"/>
<defs><linearGradient id="lg" x1="0" y1="1" x2="1" y2="0"><stop offset="0" stop-color="#0e6c69"/><stop offset="0.55" stop-color="#1fa99b"/><stop offset="1" stop-color="#48e6cf"/></linearGradient></defs>
<circle cx="14.7" cy="10.2" r="4.15" fill="url(#lg)"/>
<path d="M13.2 9.4 L17.4 7.6 L16.6 11.8 Z" fill="#b5fff0" opacity="0.6"/>
<rect x="7.6" y="11.7" width="5.1" height="4.9" rx="1" fill="#161a25"/>
<rect x="8.2" y="12.3" width="3.9" height="3.7" rx="0.8" fill="#5a97a2"/>
<text x="21.5" y="16.7" font-size="12.2" fill="#d3d5dc" stroke="#d3d5dc" stroke-width="0.3" textLength="18.50" lengthAdjust="spacingAndGlyphs">SOL</text>
<text x="44.4" y="16.7" font-size="12.2" fill="#d3d5dc" stroke="#d3d5dc" stroke-width="0.3" textLength="3.70" lengthAdjust="spacingAndGlyphs">/</text>
<text x="53.75" y="16.7" font-size="12.2" fill="#d3d5dc" stroke="#d3d5dc" stroke-width="0.3" textLength="44.35" lengthAdjust="spacingAndGlyphs">TetherUS</text>
<text x="107.75" y="16.7" font-size="12.2" fill="#d3d5dc" stroke="#d3d5dc" stroke-width="0.3" textLength="12.25" lengthAdjust="spacingAndGlyphs">1D</text>
<text x="129.25" y="16.7" font-size="12.2" fill="#d3d5dc" stroke="#d3d5dc" stroke-width="0.3" textLength="39.35" lengthAdjust="spacingAndGlyphs">Binance</text>
<text x="102.8" y="16.7" font-size="13" font-weight="bold" fill="#d3d5dc" text-anchor="middle">·</text>
<text x="124.5" y="16.7" font-size="13" font-weight="bold" fill="#d3d5dc" text-anchor="middle">·</text>
<circle cx="181.7" cy="12" r="6.2" fill="#1b3637"/><circle cx="181.7" cy="12" r="4.2" fill="#27a891"/>
<text x="193.6" y="16.2" font-size="9.2" fill="#2a9a8f" textLength="60.5" lengthAdjust="spacingAndGlyphs">+9.36 (+5.20%)</text>
<rect x="5.6" y="23.5" width="42.8" height="23.6" rx="3.2" fill="#160f12" stroke="#a2323a" stroke-width="1"/>
<text x="27" y="34" font-size="8.6" font-weight="bold" fill="#ef4b4f" text-anchor="middle">189.48</text>
<text x="27" y="43.8" font-size="7.7" fill="#ef4b4f" text-anchor="middle">SELL</text>
<text x="61.4" y="37.6" font-size="6.9" font-weight="bold" fill="#e6e7ec" text-anchor="middle">0.01</text>
<rect x="74.4" y="23.5" width="42.8" height="23.6" rx="3.2" fill="#0f1116" stroke="#2a49c4" stroke-width="1"/>
<text x="95.8" y="34" font-size="8.6" font-weight="bold" fill="#3f6cf0" text-anchor="middle">189.49</text>
<text x="95.8" y="43.8" font-size="7.7" fill="#3f6cf0" text-anchor="middle">BUY</text>
<text x="5.8" y="62.8" font-size="9.2" fill="#5b5f6b" textLength="36.6" lengthAdjust="spacingAndGlyphs">Vol · SOL</text>
<text x="5.8" y="79.6" font-size="9.2" fill="#5b5f6b" textLength="16.2" lengthAdjust="spacingAndGlyphs">SMA</text>
<g fill="none" stroke="#b4b6be" stroke-width="1"><ellipse cx="56" cy="59.3" rx="5.7" ry="4"/><circle cx="56" cy="59.3" r="1.9"/><line x1="51.5" y1="63.9" x2="60.5" y2="54.699999999999996"/></g>
<g fill="none" stroke="#b4b6be" stroke-width="1"><ellipse cx="35" cy="76.3" rx="5.7" ry="4"/><circle cx="35" cy="76.3" r="1.9"/><line x1="30.5" y1="80.89999999999999" x2="39.5" y2="71.7"/></g>
<rect x="5.6" y="87.6" width="20.2" height="14" rx="1.8" fill="none" stroke="#3a3e4b" stroke-width="1"/>
<polyline points="12.3,95.8 15.4,93.1 18.5,95.8" fill="none" stroke="#d8dae0" stroke-width="1.1"/>
<rect x="980" y="4.6" width="40.2" height="16.6" rx="2" fill="#101216" stroke="#262a34" stroke-width="1"/>
<text x="982.4" y="16" font-size="8.4" fill="#dcdde2" textLength="19.2" lengthAdjust="spacingAndGlyphs">USDT</text>
<polyline points="1014.2,11.8 1016,13.4 1017.8,11.8" fill="none" stroke="#c9cbd2" stroke-width="1"/>
</svg>
</body></html>
